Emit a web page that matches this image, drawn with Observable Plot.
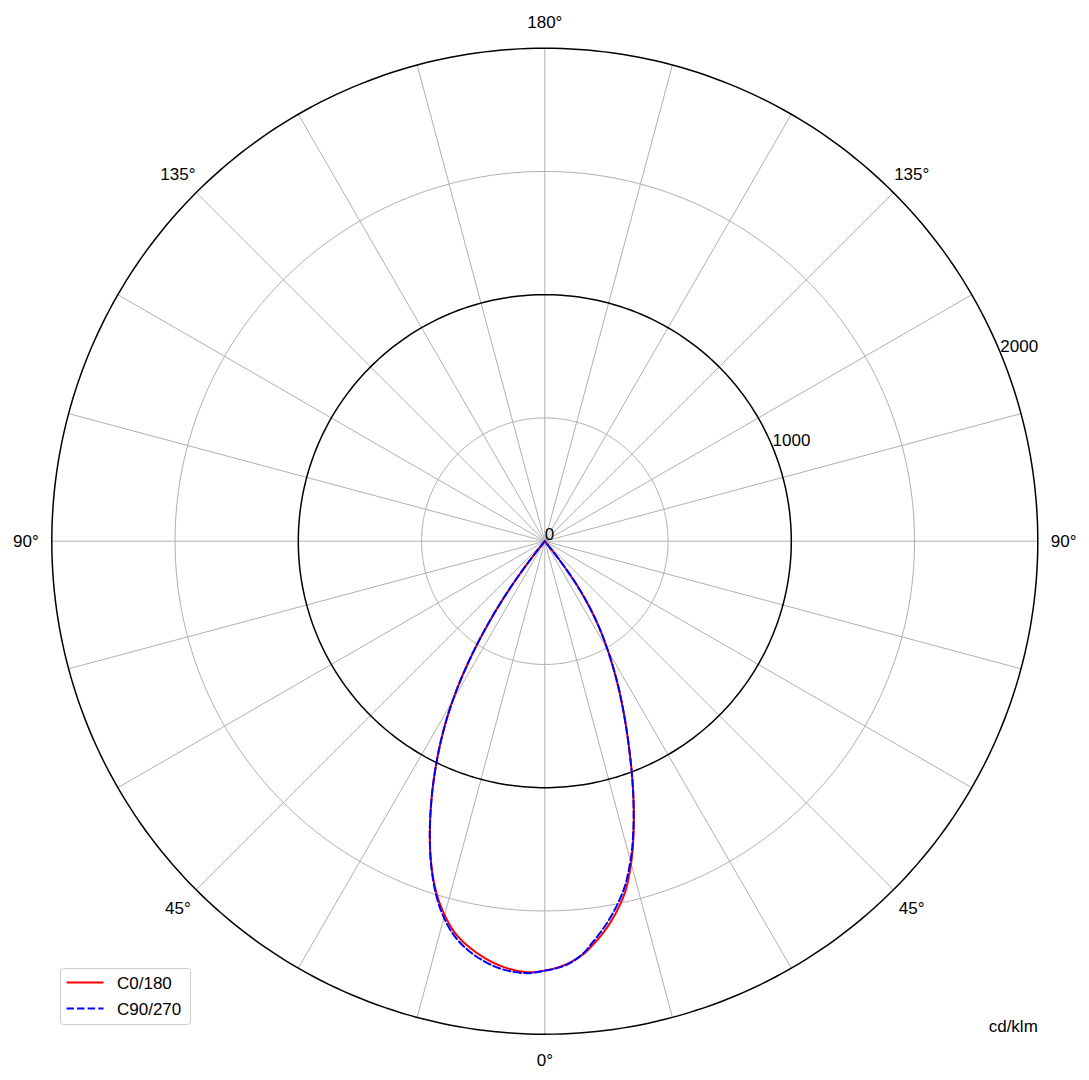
<!DOCTYPE html>
<html>
<head>
<meta charset="utf-8">
<script src="https://cdn.jsdelivr.net/npm/d3@7"></script>
<script src="https://cdn.jsdelivr.net/npm/@observablehq/plot@0.6"></script>
<style>
  html, body { margin: 0; padding: 0; background: #fff; overflow: hidden; }
  #wrap { position: relative; width: 1089px; height: 1080px; font-family: "Liberation Sans", Arial, sans-serif; }
  #wrap svg.plot { display: block; }
  #legend { position: absolute; left: 60px; top: 968px; }
</style>
</head>
<body>
<div id="wrap"></div>
<script>
// ---- data (cd/klm), vertical angle gamma in degrees measured from nadir ----
// left half of the diagram (C180 / C270)
const leftGamma  = [0, 2.34, 5.5, 8.19, 10.76, 13.13, 15.41, 17.28, 19.23, 20.97, 22.61, 24.23, 25.85, 27.47, 29.07, 30.58, 32.02, 33.31, 34.61, 35.75, 36.87, 37.95, 39.0];
const c180Values = [1742, 1750, 1736, 1709, 1672, 1625, 1557, 1487, 1396, 1303, 1208, 1112, 1014, 914, 812, 707, 598, 498, 394, 300, 203, 103, 0];
const c270Values = [1742, 1754, 1746, 1722, 1686, 1637, 1567, 1492, 1398, 1303, 1208, 1112, 1014, 914, 812, 707, 598, 498, 394, 300, 203, 103, 0];
// right half of the diagram (C0 / C90)
const rightGamma = [0, 1.88, 3.53, 5.31, 6.75, 8.42, 9.91, 11.55, 12.97, 14.11, 15.62, 17.04, 18.25, 19.45, 21.0, 23.7, 26.42, 28.56, 30.87, 32.82, 34.73, 36.5, 37.95, 39.0];
const c0Values   = [1742, 1729, 1711, 1683, 1650, 1608, 1565, 1511, 1457, 1401, 1318, 1230, 1153, 1076, 978, 820, 680, 577, 473, 386, 296, 202, 103, 0];
const c90Values  = [1742, 1731, 1713, 1680, 1640, 1594, 1549, 1494, 1441, 1388, 1310, 1226, 1151, 1076, 978, 820, 680, 577, 473, 386, 296, 202, 103, 0];

const seriesNames = ["C0/180", "C90/270"];
const seriesColors = ["#ff0000", "#0000ff"];

const ringValues = [500, 1000, 1500, 2000];
const strongRings = [1000, 2000];
const spokeAngles = d3.range(0, 360, 15);
const angleTicks = [0, 45, 90, 135, 180];
const radialTicks = [0, 1000, 2000];
const unitLabel = "cd/klm";

// ---- polar -> cartesian (data units) ----
const rMax = 2000;
const rad = d => d * Math.PI / 180;
function curve(leftVals, rightVals, name) {
  const pts = [];
  for (let i = leftGamma.length - 1; i >= 0; i--) {
    const g = rad(leftGamma[i]);
    pts.push({series: name, x: -leftVals[i] * Math.sin(g), y: -leftVals[i] * Math.cos(g)});
  }
  for (let i = 1; i < rightGamma.length; i++) {
    const g = rad(rightGamma[i]);
    pts.push({series: name, x: rightVals[i] * Math.sin(g), y: -rightVals[i] * Math.cos(g)});
  }
  return pts;
}
const redPts = curve(c180Values, c0Values, seriesNames[0]);
const bluePts = curve(c270Values, c90Values, seriesNames[1]);

const ringPts = ringValues.flatMap(r => d3.range(0, 361, 1).map(a => ({
  ring: r, strong: strongRings.includes(r), x: r * Math.sin(rad(a)), y: r * Math.cos(rad(a))
})));
const spokes = spokeAngles.map(a => ({x2: rMax * Math.sin(rad(a)), y2: -rMax * Math.cos(rad(a))}));

const labelR = rMax * 1.0525;
const angleLabels = [];
angleTicks.forEach(a => {
  const sides = (a === 0 || a === 180) ? [1] : [-1, 1];
  sides.forEach(s => angleLabels.push({
    text: a + "°", x: s * labelR * Math.sin(rad(a)), y: -labelR * Math.cos(rad(a))
  }));
});
const radialLabels = radialTicks.map(r => ({text: String(r), x: r * Math.cos(rad(22.5)), y: r * Math.sin(rad(22.5))}));

const font = "'Liberation Sans', Arial, sans-serif";

const chart = Plot.plot({
  width: 1089,
  height: 1080,
  marginLeft: 51.3,
  marginRight: 51.7,
  marginTop: 47.7,
  marginBottom: 46.3,
  x: {domain: [-rMax, rMax], axis: null},
  y: {domain: [-rMax, rMax], axis: null},
  style: {fontFamily: font, fontSize: "17px", background: "#fff", color: "#000"},
  marks: [
    Plot.link(spokes, {x1: 0, y1: 0, x2: "x2", y2: "y2", stroke: "#b0b0b0", strokeWidth: 1}),
    Plot.line(ringPts.filter(d => !d.strong), {x: "x", y: "y", z: "ring", stroke: "#b0b0b0", strokeWidth: 1}),
    Plot.line(ringPts.filter(d => d.strong), {x: "x", y: "y", z: "ring", stroke: "#000", strokeWidth: 1.5}),
    Plot.line(redPts, {x: "x", y: "y", stroke: seriesColors[0], strokeWidth: 2, curve: "catmull-rom"}),
    Plot.line(bluePts, {x: "x", y: "y", stroke: seriesColors[1], strokeWidth: 2, strokeDasharray: "7.4,3.2", curve: "catmull-rom"}),
    Plot.text(angleLabels, {x: "x", y: "y", text: "text", textAnchor: "middle", lineAnchor: "middle", fontSize: 17, fill: "#000"}),
    Plot.text(radialLabels, {x: "x", y: "y", text: "text", textAnchor: "start", lineAnchor: "bottom", dy: -1, fontSize: 17, fill: "#000"}),
    Plot.text([unitLabel], {frameAnchor: "bottom-right", text: d => d, textAnchor: "end", lineAnchor: "bottom", dy: -2, fontSize: 17, fill: "#000"})
  ]
});
document.getElementById("wrap").appendChild(chart);

// ---- legend ----
const legend = d3.select("#wrap").append("svg")
  .attr("id", "legend").attr("width", 132).attr("height", 59);
legend.append("rect").attr("x", 0.5).attr("y", 0.5).attr("width", 130).attr("height", 56)
  .attr("rx", 3).attr("fill", "#fff").attr("fill-opacity", 0.8).attr("stroke", "#cccccc");
seriesNames.forEach((name, i) => {
  const yy = 14.5 + i * 26;
  legend.append("line").attr("x1", 6.5).attr("x2", 43.5).attr("y1", yy).attr("y2", yy)
    .attr("stroke", seriesColors[i]).attr("stroke-width", 2)
    .attr("stroke-dasharray", i === 1 ? "7.4,3.2" : null);
  legend.append("text").attr("x", 57).attr("y", yy + 6).text(name)
    .attr("font-family", font).attr("font-size", 17).attr("fill", "#000");
});
</script>
</body>
</html>
